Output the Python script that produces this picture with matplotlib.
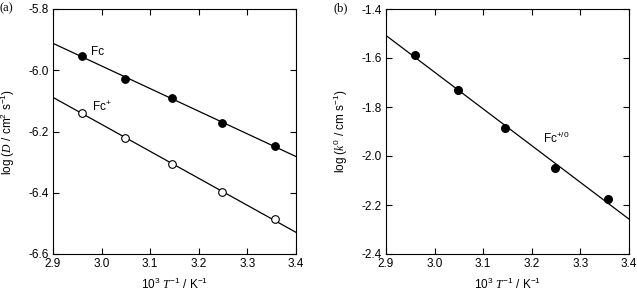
import numpy as np
import matplotlib
matplotlib.use("Agg")
import matplotlib.pyplot as plt

plt.rcParams['font.family'] = ['Liberation Sans', 'DejaVu Sans']
plt.rcParams['mathtext.fontset'] = 'custom'
plt.rcParams['mathtext.rm'] = 'Liberation Sans'
plt.rcParams['mathtext.it'] = 'Liberation Serif:italic'
plt.rcParams['mathtext.default'] = 'rm'

# data
invT = [2.959, 3.049, 3.145, 3.247, 3.356]
logD_fc = [-5.952, -6.027, -6.091, -6.173, -6.246]
logD_fcp = [-6.138, -6.220, -6.307, -6.399, -6.486]
logk = [-1.588, -1.729, -1.885, -2.047, -2.174]

xfit = np.array([2.9, 3.4])

fig = plt.figure(figsize=(6.37, 2.95), dpi=100)
ax1 = fig.add_axes([53/637, 1 - 254/295, 243/637, 245/295])
ax2 = fig.add_axes([386/637, 1 - 254/295, 243/637, 245/295])


def style(ax):
    ax.set_xlim(2.9, 3.4)
    ax.set_xticks([2.9, 3.0, 3.1, 3.2, 3.3, 3.4])
    ax.tick_params(direction='in', top=True, right=True, length=4, width=0.8,
                   labelsize=8.5, pad=3)
    for s in ax.spines.values():
        s.set_linewidth(0.8)
    ax.set_xlabel(r'10$^3$ $\mathit{T}^{-1}$ / K$^{-1}$', fontsize=8.5, labelpad=5)


# (a) diffusion coefficients
for y, face in [(logD_fc, 'black'), (logD_fcp, 'white')]:
    p = np.polyfit(invT, y, 1)
    ax1.plot(xfit, np.polyval(p, xfit), color='black', lw=0.9, zorder=1)
    ax1.plot(invT, y, 'o', ms=5.5, mfc=face, mec='black', mew=0.8, zorder=2)
ax1.set_ylim(-6.6, -5.8)
ax1.set_yticks([-6.6, -6.4, -6.2, -6.0, -5.8])
ax1.set_yticklabels(['-6.6', '-6.4', '-6.2', '-6.0', '-5.8'])
ax1.set_xticklabels(['2.9', '3.0', '3.1', '3.2', '3.3', '3.4'])
style(ax1)
ax1.set_ylabel(r'log ($\mathit{D}$ / cm$^2$ s$^{-1}$)', fontsize=8.5, labelpad=8)
ax1.text(2.978, -5.94, 'Fc', fontsize=8.5, va='center')
ax1.text(2.98, -6.12, r'Fc$^{+}$', fontsize=8.5, va='center')
fig.text(0.0, 1 - 8/295, '(a)', family='Liberation Serif', fontsize=9, va='center')

# (b) rate constant
p = np.polyfit(invT, logk, 1)
ax2.plot(xfit, np.polyval(p, xfit), color='black', lw=0.9, zorder=1)
ax2.plot(invT, logk, 'o', ms=5.5, mfc='black', mec='black', zorder=2)
ax2.set_ylim(-2.4, -1.4)
ax2.set_yticks([-2.4, -2.2, -2.0, -1.8, -1.6, -1.4])
ax2.set_yticklabels(['-2.4', '-2.2', '-2.0', '-1.8', '-1.6', '-1.4'])
ax2.set_xticklabels(['2.9', '3.0', '3.1', '3.2', '3.3', '3.4'])
style(ax2)
ax2.set_ylabel(r'log ($\mathit{k}^0$ / cm s$^{-1}$)', fontsize=8.5, labelpad=8)
ax2.text(3.224, -1.93, r'Fc$^{+/0}$', fontsize=8.5, va='center')
fig.text(333/637, 1 - 8/295, '(b)', family='Liberation Serif', fontsize=9, va='center')

fig.savefig('out.png', dpi=100)
